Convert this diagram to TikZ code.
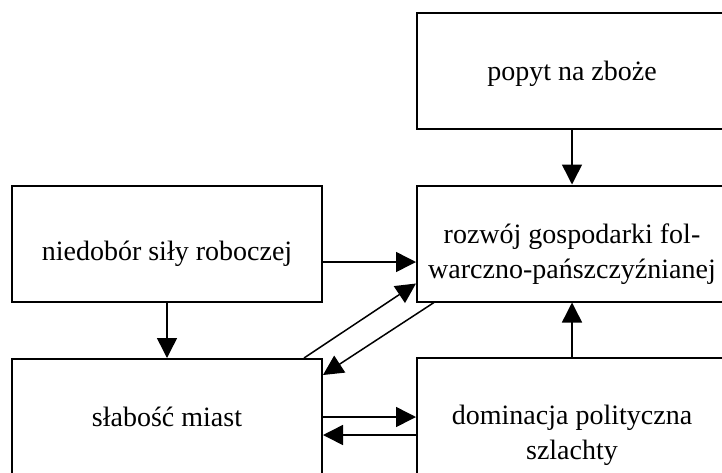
\documentclass[tikz,border=0pt]{standalone}
\usepackage{fontspec}
\setmainfont{Liberation Serif}
\usetikzlibrary{arrows.meta,calc}

\begin{document}
\begin{tikzpicture}[
    x=1pt, y=-1pt,
    every node/.style={font=\fontsize{28}{35}\selectfont},
    box/.style={rectangle, draw, line width=2pt, minimum width=310pt, minimum height=116pt, align=center, inner sep=0pt},
    arr/.style={-{Triangle[length=20pt, width=20pt]}, line width=1.5pt},
]

% ── Frame (boxes on the right and bottom run past the edge) ──
\clip (0,0) rectangle (722,472);

% ── Boxes ──
\node[box, text height=27pt] (popyt) at (572,70.5) {popyt na zboże};
\node[box, text height=40pt] (niedobor) at (167,244) {niedobór siły roboczej};
\node[box, text height=77pt] (rozwoj) at (572,243.5) {rozwój gospodarki fol-\\warczno-pańszczyźnianej};
\node[box] (slabosc) at (167,417) {słabość miast};
\node[box, minimum height=154pt] (dominacja) at (572,435) {dominacja polityczna\\szlachty};

% ── Arrows ──
\draw[arr] (popyt) -- (rozwoj);
\draw[arr] ([yshift=-18pt]niedobor.east) -- ([yshift=-18pt]niedobor.east -| rozwoj.west);
\draw[arr] (niedobor) -- (slabosc);
\draw[arr] ([xshift=-19pt]slabosc.north east) -- ([yshift=19pt]rozwoj.south west);
\draw[arr] ([xshift=18pt]rozwoj.south west) -- ([yshift=-17pt]slabosc.north east);
\draw[arr] (slabosc.east) -- (slabosc.east -| dominacja.west);
\draw[arr] (dominacja.west) -- (dominacja.west -| slabosc.east);
\draw[arr] (dominacja) -- (rozwoj);

\end{tikzpicture}
\end{document}
